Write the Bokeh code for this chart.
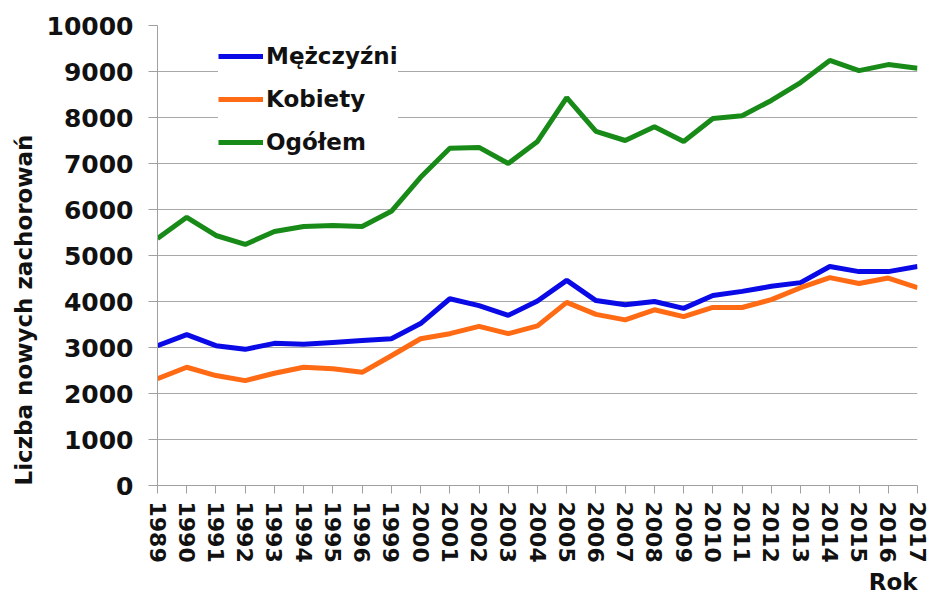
from bokeh.plotting import figure
from bokeh.models import Range1d, FixedTicker, Legend, LegendItem, Title, ColumnDataSource
from bokeh.embed import file_html
from bokeh.resources import INLINE

years = ["1989", "1990", "1991", "1992", "1993", "1994", "1995", "1996", "1999",
         "2000", "2001", "2002", "2003", "2004", "2005", "2006", "2007", "2008",
         "2009", "2010", "2011", "2012", "2013", "2014", "2015", "2016", "2017"]
mezczyzni = [3040, 3280, 3040, 2960, 3090, 3070, 3110, 3150, 3190,
             3520, 4060, 3910, 3700, 4010, 4460, 4020, 3930, 4000,
             3850, 4130, 4220, 4330, 4410, 4760, 4650, 4650, 4760]
kobiety = [2320, 2570, 2390, 2280, 2440, 2570, 2540, 2460, 2820,
           3190, 3300, 3460, 3300, 3470, 3980, 3720, 3600, 3820,
           3670, 3870, 3870, 4040, 4300, 4520, 4390, 4510, 4300]
ogolem = [5370, 5830, 5435, 5240, 5520, 5630, 5650, 5630, 5960,
          6700, 7330, 7350, 7000, 7480, 8430, 7700, 7500, 7800,
          7480, 7980, 8040, 8370, 8760, 9240, 9020, 9150, 9070]
y_ticks = [0, 1000, 2000, 3000, 4000, 5000, 6000, 7000, 8000, 9000, 10000]

FONT = "DejaVu Sans"
idx = list(range(len(years)))
src = ColumnDataSource(dict(x=idx, m=mezczyzni, k=kobiety, o=ogolem))

p = figure(width=931, height=601, output_backend="svg", toolbar_location=None,
           x_range=Range1d(0, len(years) - 1), y_range=Range1d(0, 10000),
           min_border_left=157, min_border_right=14, min_border_top=25,
           min_border_bottom=116)
p.outline_line_color = None
p.background_fill_color = "white"

r_m = p.line("x", "m", source=src, line_color="#0a0ae6", line_width=5)
r_k = p.line("x", "k", source=src, line_color="#ff6a14", line_width=5)
r_o = p.line("x", "o", source=src, line_color="#188a18", line_width=5)

# axes
p.xaxis.ticker = FixedTicker(ticks=idx)
p.xaxis.major_label_overrides = {i: y for i, y in enumerate(years)}
p.xaxis.major_label_orientation = "vertical"
p.xaxis.major_label_text_font = FONT
p.xaxis.major_label_text_font_style = "bold"
p.xaxis.major_label_text_font_size = "22px"
p.xaxis.major_label_text_color = "#111111"
p.xaxis.major_tick_out = 8
p.xaxis.major_tick_in = 0
p.xaxis.minor_tick_line_color = None
p.xaxis.major_label_standoff = 8
p.xaxis.axis_line_color = "#a0a0a0"
p.xaxis.major_tick_line_color = "#a0a0a0"

p.yaxis.ticker = FixedTicker(ticks=y_ticks)
p.yaxis.major_label_text_font = FONT
p.yaxis.major_label_text_font_style = "bold"
p.yaxis.major_label_text_font_size = "25px"
p.yaxis.major_label_text_color = "#111111"
p.yaxis.major_tick_out = 9
p.yaxis.major_tick_in = 0
p.yaxis.minor_tick_line_color = None
p.yaxis.major_label_standoff = 15
p.yaxis.axis_line_color = "#a0a0a0"
p.yaxis.major_tick_line_color = "#a0a0a0"

p.xgrid.grid_line_color = None
p.ygrid.grid_line_color = "#a8a8a8"
p.ygrid.grid_line_width = 1

# axis titles
p.add_layout(Title(text="Liczba nowych zachorowań", align="left",
                   text_font=FONT, text_font_style="bold", text_font_size="23px",
                   text_color="#111111", standoff=13), "left")
p.add_layout(Title(text="Rok", align="right",
                   text_font=FONT, text_font_style="bold", text_font_size="23px",
                   text_color="#111111", standoff=2), "below")

legend = Legend(items=[LegendItem(label="Mężczyźni", renderers=[r_m]),
                       LegendItem(label="Kobiety", renderers=[r_k]),
                       LegendItem(label="Ogółem", renderers=[r_o])],
                location=(61, 325), orientation="vertical",
                label_text_font=FONT, label_text_font_style="bold",
                label_text_font_size="23px", label_text_color="#111111",
                glyph_width=45, glyph_height=36, label_height=36, spacing=7,
                padding=4, label_standoff=3, border_line_color=None,
                background_fill_color="white", background_fill_alpha=1.0)
p.add_layout(legend, "center")

open("out.html", "w").write(file_html(p, INLINE))
